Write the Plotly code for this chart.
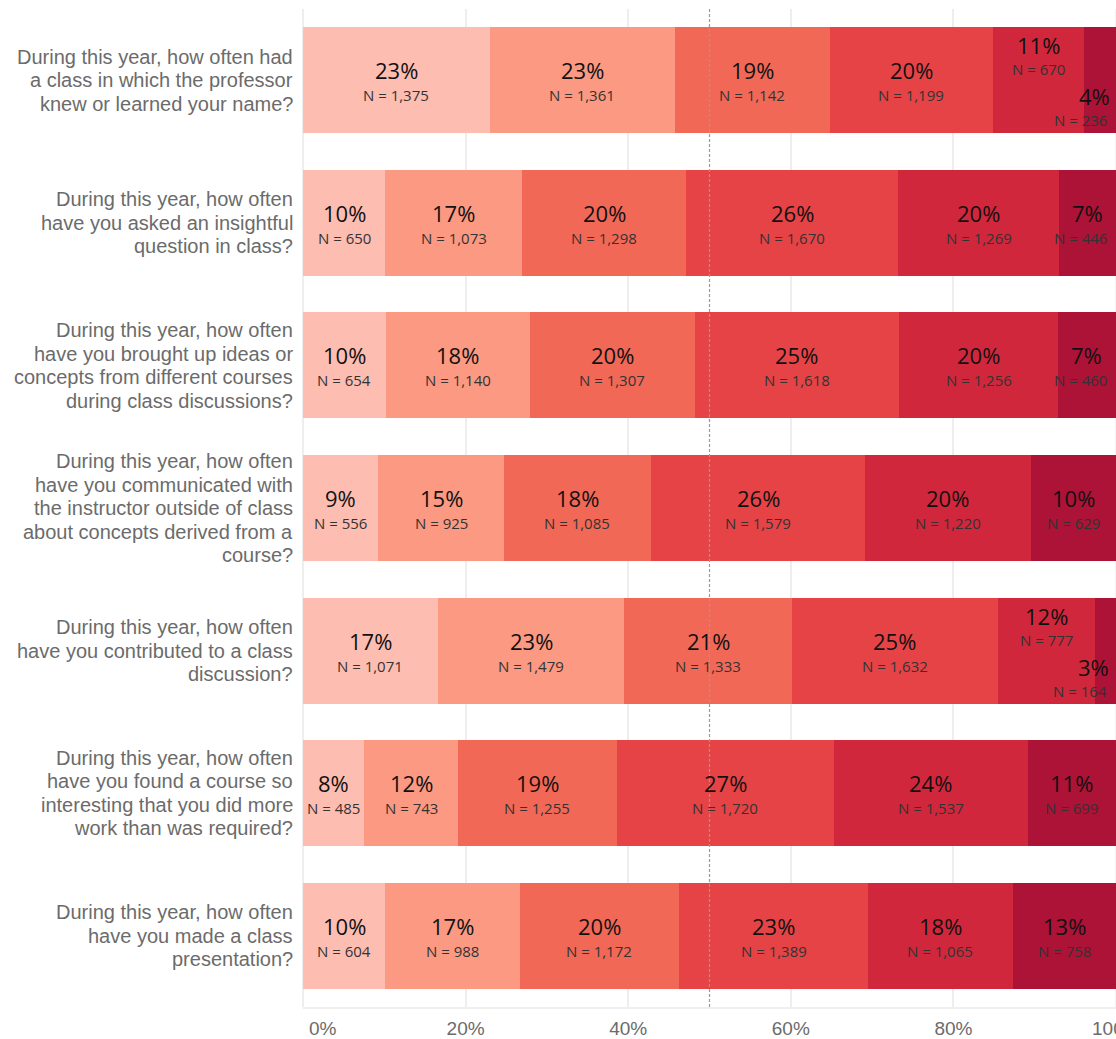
import plotly.graph_objects as go

questions = [
    "During this year, how often had<br>a class in which the professor<br>knew or learned your name?",
    "During this year, how often<br>have you asked an insightful<br>question in class?",
    "During this year, how often<br>have you brought up ideas or<br>concepts from different courses<br>during class discussions?",
    "During this year, how often<br>have you communicated with<br>the instructor outside of class<br>about concepts derived from a<br>course?",
    "During this year, how often<br>have you contributed to a class<br>discussion?",
    "During this year, how often<br>have you found a course so<br>interesting that you did more<br>work than was required?",
    "During this year, how often<br>have you made a class<br>presentation?",
]

# counts per question, ordered from lightest to darkest response level
q1_counts = [1375, 1361, 1142, 1199, 670, 236]
q2_counts = [650, 1073, 1298, 1670, 1269, 446]
q3_counts = [654, 1140, 1307, 1618, 1256, 460]
q4_counts = [556, 925, 1085, 1579, 1220, 629]
q5_counts = [1071, 1479, 1333, 1632, 777, 164]
q6_counts = [485, 743, 1255, 1720, 1537, 699]
q7_counts = [604, 988, 1172, 1389, 1065, 758]
all_counts = [q1_counts, q2_counts, q3_counts, q4_counts, q5_counts, q6_counts, q7_counts]

level_colors = ["#FEBDB1", "#FB9982", "#F26857", "#E64346", "#D1273C", "#AD1237"]

tick_vals = [0, 20, 40, 60, 80, 100]
tick_text = ["0%", "20%", "40%", "60%", "80%", "100%"]

# layout constants (pixels)
W, H = 1116, 1039
ML, MR, MT, MB = 303, 0, 9, 32
PLOT_W = W - ML - MR
PX_PER_PCT = PLOT_W / 100.0
LINE_H = 23.5
TICK_FONT = dict(family="Liberation Sans", size=19, color="#6b6b6b")

pcts = [[c / sum(row) * 100 for c in row] for row in all_counts]

fig = go.Figure()
for lvl in range(6):
    fig.add_trace(go.Bar(
        y=questions,
        x=[p[lvl] for p in pcts],
        orientation="h",
        marker=dict(color=level_colors[lvl], line=dict(width=0)),
        showlegend=False,
        hovertemplate="%{x:.1f}%<extra></extra>",
    ))

annotations = []
# question labels, one annotation per line for tight line spacing
for q in questions:
    lines = q.split("<br>")
    n = len(lines)
    for k, line in enumerate(lines):
        annotations.append(dict(
            x=0, xref="paper", y=q, yref="y", text=line, showarrow=False,
            xanchor="right", yanchor="middle", xshift=-8,
            yshift=((n - 1) / 2 - k) * LINE_H,
            font=dict(family="Liberation Sans", size=20, color="#6b6b6b"),
        ))

for qi, row in enumerate(all_counts):
    prow = pcts[qi]
    stagger = prow[-1] < 5
    cum = 0.0
    for lvl, (n, p) in enumerate(zip(row, prow)):
        center = cum + p / 2
        cum += p
        pct_txt = f"{round(p)}%"
        n_txt = f"N = {n:,}"
        up_p, up_n = 10, -15
        if stagger and lvl == 4:
            up_p, up_n = 35, 11
        if stagger and lvl == 5:
            up_p, up_n = -16, -40
        for txt, size, color, ys, cw in [
            (pct_txt, 22, "#111111", up_p, 13.0),
            (n_txt, 15, "#333333", up_n, 7.6),
        ]:
            px_c = center * PX_PER_PCT
            half = len(txt) * cw / 2
            xs = 0
            limit = PLOT_W - 9
            if px_c + half > limit:
                xs = limit - half - px_c
            annotations.append(dict(
                x=center, y=questions[qi], xref="x", yref="y",
                text=txt, showarrow=False, xshift=xs, yshift=ys,
                font=dict(family="Open Sans", size=size, color=color),
                xanchor="center", yanchor="middle",
            ))

# edge x tick labels (Tableau keeps the first inside, the last is cut by the edge)
annotations.append(dict(
    x=tick_vals[0], xref="x", y=0, yref="paper", text=tick_text[0], showarrow=False,
    xanchor="left", yanchor="top", xshift=4, yshift=-9, font=TICK_FONT,
))
annotations.append(dict(
    x=tick_vals[-1], xref="x", y=0, yref="paper", text=tick_text[-1], showarrow=False,
    xanchor="center", yanchor="top", xshift=0, yshift=-9, font=TICK_FONT,
))

fig.update_layout(
    width=W, height=H,
    margin=dict(l=ML, r=MR, t=MT, b=MB, pad=0),
    barmode="stack",
    bargap=0.257,
    plot_bgcolor="white",
    paper_bgcolor="white",
    annotations=annotations,
    shapes=[dict(
        type="line", xref="x", yref="paper", x0=50, x1=50, y0=0, y1=1,
        line=dict(color="#9a9a9a", width=1.2, dash="3px,2px"), layer="above",
    )],
    xaxis=dict(
        range=[0, 100], tickvals=tick_vals[1:-1], ticktext=tick_text[1:-1],
        showgrid=True, gridcolor="#eeeeee", gridwidth=1.5,
        zeroline=True, zerolinecolor="#eeeeee", zerolinewidth=1.5,
        showline=True, linecolor="#eeeeee", linewidth=1.5,
        ticks="", automargin=False, fixedrange=True, ticklabelstandoff=3,
        tickfont=TICK_FONT,
    ),
    yaxis=dict(
        autorange="reversed", showgrid=False, zeroline=False, showline=False,
        showticklabels=False, ticks="", automargin=False, fixedrange=True,
    ),
)
# gridline at 100% (tickvals trimmed above, add it back)
fig.add_shape(type="line", xref="x", yref="paper", x0=tick_vals[-1], x1=tick_vals[-1],
              y0=0, y1=1, line=dict(color="#eeeeee", width=1.5), layer="below")

fig.write_html("out.html", config={"displayModeBar": False},
               post_script="document.body.style.margin='0px';")
